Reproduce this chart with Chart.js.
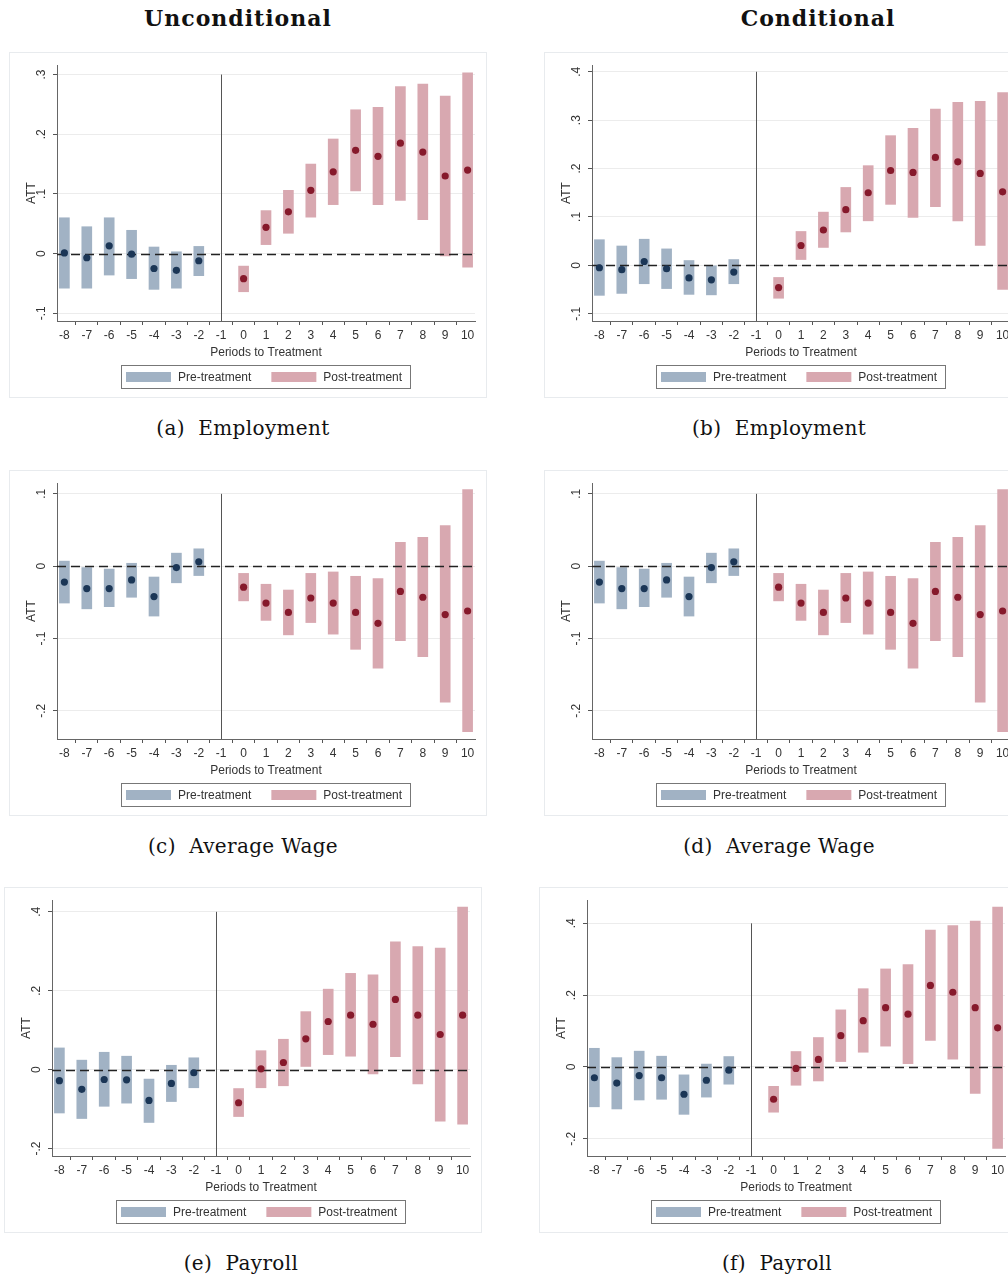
<!DOCTYPE html>
<html>
<head>
<meta charset="utf-8">
<script src="https://cdn.jsdelivr.net/npm/chart.js@4"></script>
<style>
  html, body { margin: 0; padding: 0; background: #fff; }
  body { width: 1008px; height: 1278px; position: relative; overflow: hidden; }
  .head { position: absolute; top: 5px; width: 320px; text-align: center; line-height: 26px;
          font: bold 22px "DejaVu Serif", serif; letter-spacing: 1px; color: #111; }
  .panel { position: absolute; width: 478px; height: 346px; background: #fff; box-shadow: inset 0 0 0 1px #e8ebee; }
  .panel canvas { display: block; }
  .cap { position: absolute; width: 340px; text-align: center; line-height: 24px;
         font: 20px "DejaVu Serif", serif; letter-spacing: 0.35px; color: #111; }
</style>
</head>
<body>
<div class="head" style="left:78px">Unconditional</div>
<div class="head" style="left:658px">Conditional</div>

<div class="panel" style="left:9px;top:52px"><canvas id="pa" width="478" height="346"></canvas></div>
<div class="panel" style="left:544px;top:52px"><canvas id="pb" width="478" height="346"></canvas></div>
<div class="cap" style="left:73px;top:416px">(a)&nbsp; Employment</div>
<div class="cap" style="left:609px;top:416px">(b)&nbsp; Employment</div>

<div class="panel" style="left:9px;top:470px"><canvas id="pc" width="478" height="346"></canvas></div>
<div class="panel" style="left:544px;top:470px"><canvas id="pd" width="478" height="346"></canvas></div>
<div class="cap" style="left:73px;top:834px">(c)&nbsp; Average Wage</div>
<div class="cap" style="left:609px;top:834px">(d)&nbsp; Average Wage</div>

<div class="panel" style="left:4px;top:887px"><canvas id="pe" width="478" height="346"></canvas></div>
<div class="panel" style="left:539px;top:887px"><canvas id="pf" width="478" height="346"></canvas></div>
<div class="cap" style="left:71px;top:1251px">(e)&nbsp; Payroll</div>
<div class="cap" style="left:607px;top:1251px">(f)&nbsp; Payroll</div>

<script>
// periods relative to treatment
const periodsPre = [-8, -7, -6, -5, -4, -3, -2];
const periodsPost = [0, 1, 2, 3, 4, 5, 6, 7, 8, 9, 10];
const periodTicks = [-8, -7, -6, -5, -4, -3, -2, -1, 0, 1, 2, 3, 4, 5, 6, 7, 8, 9, 10];

// (a) Employment, unconditional
const empUncPreEst = [0.001, -0.007, 0.013, -0.001, -0.025, -0.028, -0.012];
const empUncPreLo = [-0.058, -0.058, -0.036, -0.042, -0.060, -0.058, -0.037];
const empUncPreHi = [0.060, 0.045, 0.060, 0.039, 0.011, 0.003, 0.012];
const empUncPostEst = [-0.042, 0.044, 0.070, 0.106, 0.137, 0.173, 0.163, 0.185, 0.170, 0.130, 0.140];
const empUncPostLo = [-0.064, 0.015, 0.034, 0.061, 0.082, 0.105, 0.082, 0.089, 0.057, -0.004, -0.023];
const empUncPostHi = [-0.021, 0.072, 0.106, 0.150, 0.192, 0.241, 0.245, 0.280, 0.284, 0.264, 0.303];
const empUncYTicks = [-0.1, 0, 0.1, 0.2, 0.3];

// (b) Employment, conditional
const empConPreEst = [-0.005, -0.009, 0.008, -0.007, -0.026, -0.030, -0.014];
const empConPreLo = [-0.062, -0.058, -0.038, -0.048, -0.060, -0.061, -0.038];
const empConPreHi = [0.053, 0.040, 0.054, 0.034, 0.010, 0.000, 0.012];
const empConPostEst = [-0.046, 0.041, 0.073, 0.115, 0.150, 0.196, 0.192, 0.223, 0.214, 0.190, 0.152];
const empConPostLo = [-0.068, 0.012, 0.037, 0.069, 0.092, 0.126, 0.099, 0.121, 0.092, 0.041, -0.050];
const empConPostHi = [-0.025, 0.070, 0.110, 0.161, 0.206, 0.268, 0.283, 0.323, 0.337, 0.339, 0.357];
const empConYTicks = [-0.1, 0, 0.1, 0.2, 0.3, 0.4];

// (c) / (d) Average wage (both panels show the same estimates)
const wagePreEst = [-0.022, -0.031, -0.031, -0.019, -0.042, -0.002, 0.006];
const wagePreLo = [-0.051, -0.059, -0.056, -0.043, -0.069, -0.023, -0.013];
const wagePreHi = [0.007, -0.002, -0.004, 0.004, -0.015, 0.018, 0.024];
const wagePostEst = [-0.029, -0.051, -0.064, -0.044, -0.051, -0.064, -0.079, -0.035, -0.043, -0.067, -0.062];
const wagePostLo = [-0.048, -0.075, -0.095, -0.078, -0.094, -0.115, -0.141, -0.103, -0.125, -0.188, -0.229];
const wagePostHi = [-0.010, -0.025, -0.033, -0.010, -0.008, -0.014, -0.017, 0.033, 0.040, 0.056, 0.106];
const wageYTicks = [-0.2, -0.1, 0, 0.1];

// (e) Payroll, unconditional
const payUncPreEst = [-0.028, -0.050, -0.025, -0.026, -0.078, -0.035, -0.008];
const payUncPreLo = [-0.110, -0.124, -0.093, -0.085, -0.134, -0.081, -0.046];
const payUncPreHi = [0.055, 0.024, 0.044, 0.034, -0.024, 0.011, 0.030];
const payUncPostEst = [-0.084, 0.002, 0.018, 0.078, 0.122, 0.138, 0.115, 0.178, 0.138, 0.089, 0.138];
const payUncPostLo = [-0.119, -0.046, -0.041, 0.008, 0.038, 0.034, -0.011, 0.033, -0.036, -0.131, -0.138];
const payUncPostHi = [-0.048, 0.048, 0.077, 0.147, 0.204, 0.244, 0.240, 0.324, 0.312, 0.308, 0.412];
const payUncYTicks = [-0.2, 0, 0.2, 0.4];

// (f) Payroll, conditional
const payConPreEst = [-0.030, -0.045, -0.024, -0.030, -0.076, -0.037, -0.009];
const payConPreLo = [-0.111, -0.117, -0.092, -0.090, -0.132, -0.084, -0.048];
const payConPreHi = [0.052, 0.026, 0.044, 0.030, -0.022, 0.008, 0.029];
const payConPostEst = [-0.090, -0.004, 0.021, 0.087, 0.129, 0.165, 0.147, 0.227, 0.208, 0.165, 0.109];
const payConPostLo = [-0.126, -0.051, -0.039, 0.015, 0.041, 0.058, 0.009, 0.074, 0.022, -0.074, -0.227];
const payConPostHi = [-0.054, 0.043, 0.082, 0.159, 0.218, 0.273, 0.285, 0.381, 0.394, 0.406, 0.445];
const payConYTicks = [-0.2, 0, 0.2, 0.4];

const PRE_BAR = '#a1b2c4';
const POST_BAR = '#d8a8b0';
const PRE_DOT = '#1b3656';
const POST_DOT = '#86192b';
const FONT = '"Liberation Sans", Arial, sans-serif';

Chart.defaults.font.family = FONT;
Chart.defaults.font.size = 12;
Chart.defaults.color = '#333';

const toRange = (xs, lo, hi) => xs.map((x, i) => ({ x, y: [lo[i], hi[i]] }));
const toPoints = (xs, est) => xs.map((x, i) => ({ x, y: est[i] }));
// Stata style: ".3", "-.1", "0"
const fmtTick = v => v === 0 ? '0' : String(Math.round(v * 10) / 10).replace(/^(-?)0\./, '$1.');

// xline at -1 and dashed yline at 0, drawn above bars but below dots
const refLines = {
  id: 'refLines',
  afterDatasetDraw(chart, args, opts) {
    if (args.index !== 0) return;
    const { ctx, chartArea: a, scales: { x, y } } = chart;
    ctx.save();
    const vx = Math.round(x.getPixelForValue(-1)) + 0.5;
    ctx.strokeStyle = '#555';
    ctx.lineWidth = 1;
    ctx.beginPath();
    ctx.moveTo(vx, y.getPixelForValue(opts.top));
    ctx.lineTo(vx, a.bottom);
    ctx.stroke();

    const zy = Math.round(y.getPixelForValue(0)) + 0.5;
    ctx.strokeStyle = '#222';
    ctx.lineWidth = 1.4;
    ctx.setLineDash([9, 5]);
    ctx.beginPath();
    ctx.moveTo(a.left, zy);
    ctx.lineTo(a.right, zy);
    ctx.stroke();
    ctx.restore();
  }
};

// boxed legend under the axis title
const boxLegend = {
  id: 'boxLegend',
  afterDraw(chart) {
    const { ctx, chartArea: a } = chart;
    const items = [
      { text: 'Pre-treatment', color: PRE_BAR },
      { text: 'Post-treatment', color: POST_BAR }
    ];
    ctx.save();
    ctx.font = '12px ' + FONT;
    const sw = 45, gap = 7, sep = 20, padL = 5, padR = 8, h = 23;
    const widths = items.map(it => ctx.measureText(it.text).width);
    let total = padL + padR + sep * (items.length - 1);
    widths.forEach(w => { total += sw + gap + w; });
    const x0 = Math.round((a.left + a.right) / 2 - total / 2);
    const y0 = Math.round(a.bottom + 44);
    ctx.fillStyle = '#fff';
    ctx.fillRect(x0, y0, total, h);
    ctx.strokeStyle = '#777';
    ctx.lineWidth = 1;
    ctx.strokeRect(x0 + 0.5, y0 + 0.5, Math.round(total), h);
    let cx = x0 + padL;
    const cy = y0 + h / 2 + 0.5;
    items.forEach((it, i) => {
      ctx.fillStyle = it.color;
      ctx.fillRect(cx, cy - 5, sw, 10);
      cx += sw + gap;
      ctx.fillStyle = '#333';
      ctx.textBaseline = 'middle';
      ctx.fillText(it.text, cx, cy + 0.5);
      cx += widths[i] + sep;
    });
    ctx.restore();
  }
};

function makeChart(id, pre, post, yTicks, yMin, yMax) {
  new Chart(document.getElementById(id), {
    type: 'bar',
    data: {
      datasets: [
        { data: toRange(periodsPre, pre.lo, pre.hi), backgroundColor: PRE_BAR, barThickness: 10,
          grouped: false, borderWidth: 0, order: 2 },
        { data: toRange(periodsPost, post.lo, post.hi), backgroundColor: POST_BAR, barThickness: 10,
          grouped: false, borderWidth: 0, order: 2 },
        { type: 'line', data: toPoints(periodsPre, pre.est), showLine: false, pointRadius: 3.6,
          pointBackgroundColor: PRE_DOT, pointBorderWidth: 0, order: 1 },
        { type: 'line', data: toPoints(periodsPost, post.est), showLine: false, pointRadius: 3.6,
          pointBackgroundColor: POST_DOT, pointBorderWidth: 0, order: 1 }
      ]
    },
    options: {
      responsive: false,
      animation: false,
      layout: { padding: { left: 0, top: 13, right: 12, bottom: 35 } },
      plugins: {
        legend: { display: false },
        tooltip: { enabled: false },
        refLines: { top: yTicks[yTicks.length - 1] }
      },
      scales: {
        x: {
          type: 'linear', min: -8.33, max: 10.33, offset: false,
          afterBuildTicks: s => { s.ticks = periodTicks.map(v => ({ value: v })); },
          afterFit: s => { s.height = 42; },
          grid: { drawOnChartArea: false, tickLength: 4, tickColor: '#555' },
          border: { color: '#666' },
          ticks: { color: '#333', padding: 3, maxRotation: 0, autoSkip: false },
          title: { display: true, text: 'Periods to Treatment', color: '#333', padding: { top: 2, bottom: 3 } }
        },
        y: {
          min: yMin, max: yMax,
          afterBuildTicks: s => { s.ticks = yTicks.map(v => ({ value: v })); },
          afterFit: s => { s.width = 48; },
          grid: { color: '#ececec', tickLength: 4, tickColor: '#555' },
          border: { color: '#666' },
          ticks: { color: '#333', padding: 4, minRotation: 90, maxRotation: 90, crossAlign: 'center', callback: fmtTick },
          title: { display: true, text: 'ATT', color: '#333', padding: { top: 15, bottom: 0 } }
        }
      }
    },
    plugins: [refLines, boxLegend]
  });
}

makeChart('pa',
  { est: empUncPreEst, lo: empUncPreLo, hi: empUncPreHi },
  { est: empUncPostEst, lo: empUncPostLo, hi: empUncPostHi },
  empUncYTicks, -0.113, 0.316);
makeChart('pb',
  { est: empConPreEst, lo: empConPreLo, hi: empConPreHi },
  { est: empConPostEst, lo: empConPostLo, hi: empConPostHi },
  empConYTicks, -0.115, 0.414);
makeChart('pc',
  { est: wagePreEst, lo: wagePreLo, hi: wagePreHi },
  { est: wagePostEst, lo: wagePostLo, hi: wagePostHi },
  wageYTicks, -0.239, 0.115);
makeChart('pd',
  { est: wagePreEst, lo: wagePreLo, hi: wagePreHi },
  { est: wagePostEst, lo: wagePostLo, hi: wagePostHi },
  wageYTicks, -0.239, 0.115);
makeChart('pe',
  { est: payUncPreEst, lo: payUncPreLo, hi: payUncPreHi },
  { est: payUncPostEst, lo: payUncPostLo, hi: payUncPostHi },
  payUncYTicks, -0.219, 0.430);
makeChart('pf',
  { est: payConPreEst, lo: payConPreLo, hi: payConPreHi },
  { est: payConPostEst, lo: payConPostLo, hi: payConPostHi },
  payConYTicks, -0.248, 0.465);
</script>
</body>
</html>
